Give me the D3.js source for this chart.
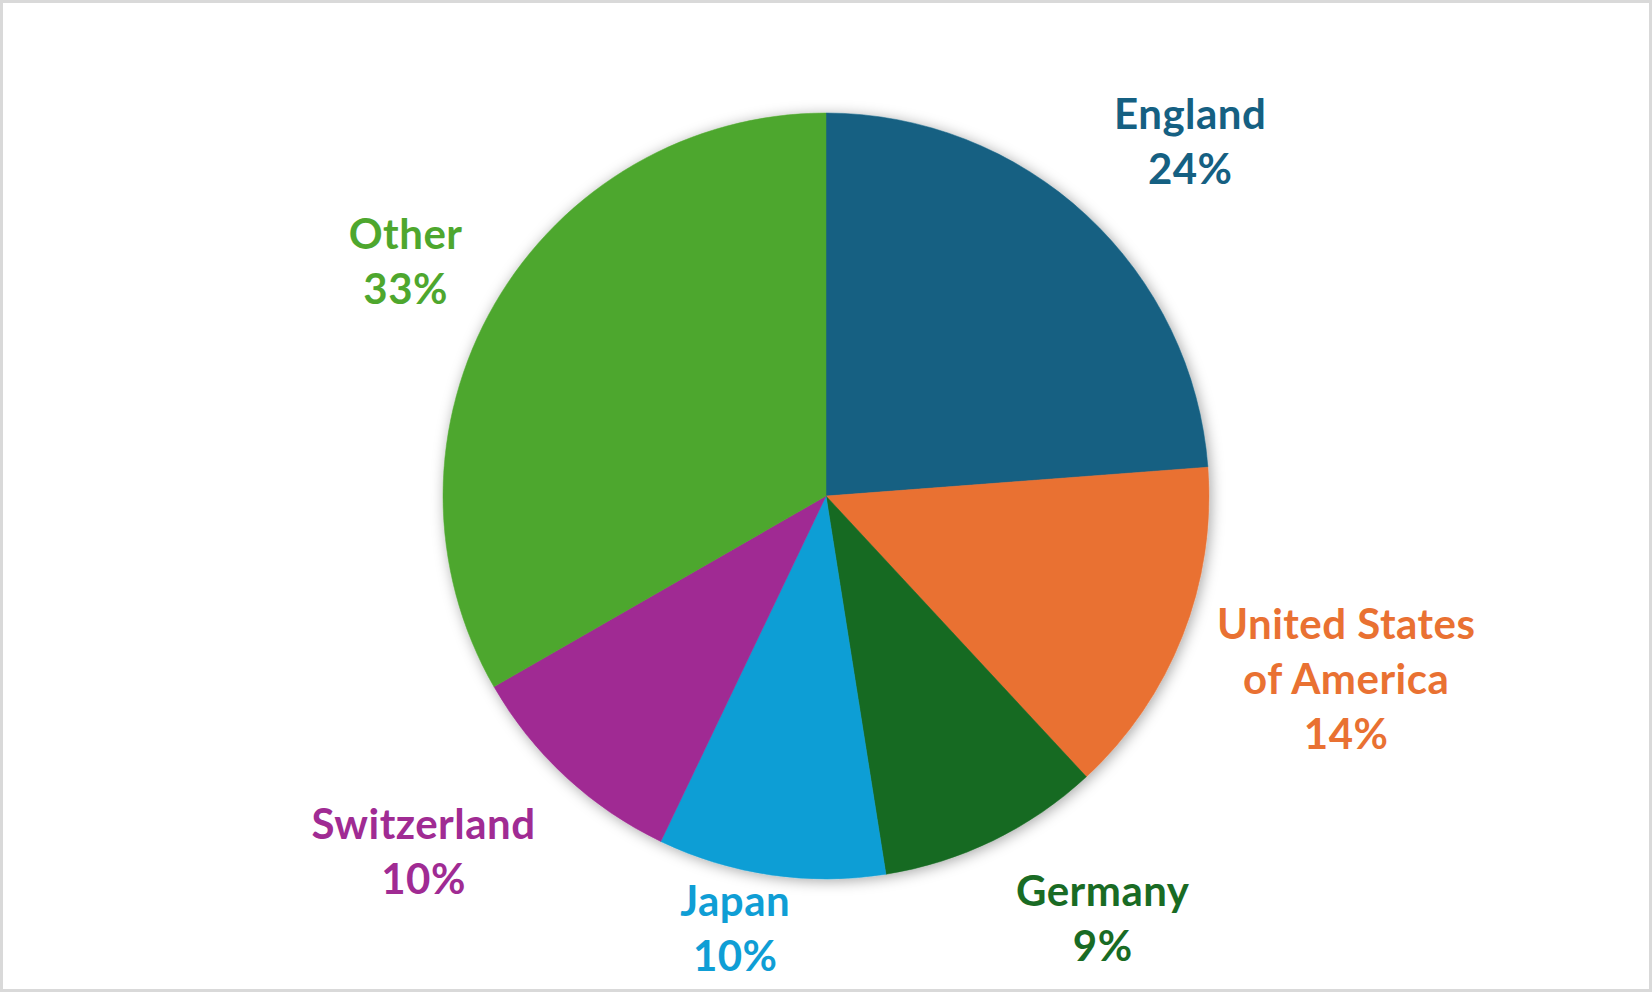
<!DOCTYPE html>
<html>
<head>
<meta charset="utf-8">
<script src="https://cdn.jsdelivr.net/npm/d3@7"></script>
<style>
  html, body { margin: 0; padding: 0; background: #fff; }
  svg { display: block; }
  .lbl { font-family: Lato, "Open Sans", sans-serif; font-weight: 700; font-size: 42px; letter-spacing: 0.5px; }
</style>
</head>
<body>
<svg id="chart" width="1652" height="992"></svg>
<script>
// data (share of total, %)
var countries = ['England', 'United States of America', 'Germany', 'Japan', 'Switzerland', 'Other'];
var shares = [23.8, 14.3, 9.4, 9.6, 9.6, 33.3];
var colors = ['#156082', '#E97132', '#196B24', '#0F9ED5', '#A02B93', '#4EA72E'];

(function() {
    var width = 1652;
    var height = 992;
    var cx = 826;
    var cy = 496;
    var radius = 383;
    var labelGap = 37;
    var lineHeight = 55;
    var wrapWidth = 280;
    var bottomLimit = 975;
    // small hand adjustments of the label boxes, like dragging them in the editor
    var labelNudge = {
        'England': [8, 5],
        'Other': [0, 5],
        'United States of America': [0, -3],
        'Switzerland': [-13, -6],
        'Japan': [11, 5],
        'Germany': [48, -5]
    };

    var svg = d3.select('#chart');

    // frame
    svg.append('rect')
        .attr('x', 1.5)
        .attr('y', 1.5)
        .attr('width', width - 3)
        .attr('height', height - 3)
        .attr('fill', '#fff')
        .attr('stroke', '#d9d9d9')
        .attr('stroke-width', 3);

    var defs = svg.append('defs');
    var shadow = defs.append('filter')
        .attr('id', 'pieShadow')
        .attr('x', '-10%')
        .attr('y', '-10%')
        .attr('width', '120%')
        .attr('height', '120%');
    shadow.append('feDropShadow')
        .attr('dx', 2)
        .attr('dy', 2)
        .attr('stdDeviation', 7)
        .attr('flood-color', '#000')
        .attr('flood-opacity', 0.35);

    var data = countries.map(function(c, i) {
        return { name: c, value: shares[i], color: colors[i] };
    });

    var pie = d3.pie()
        .sort(null)
        .value(function(d) { return d.value; });
    var arc = d3.arc()
        .innerRadius(0)
        .outerRadius(radius);

    var arcs = pie(data);

    var g = svg.append('g')
        .attr('transform', 'translate(' + cx + ',' + cy + ')');

    g.append('g')
        .attr('filter', 'url(#pieShadow)')
        .selectAll('path')
        .data(arcs)
        .enter()
        .append('path')
        .attr('d', arc)
        .attr('fill', function(d) { return d.data.color; })
        .attr('stroke', function(d) { return d.data.color; })
        .attr('stroke-width', 0.5);

    var total = d3.sum(shares);
    var labels = g.append('g')
        .selectAll('text')
        .data(arcs)
        .enter()
        .append('text')
        .attr('class', 'lbl')
        .attr('text-anchor', 'middle')
        .attr('fill', function(d) { return d.data.color; });

    labels.each(function(d) {
        var text = d3.select(this);
        // greedy word wrap, then the percentage on its own line
        var words = d.data.name.split(' ');
        var lines = [];
        var line = [];
        var probe = text.append('tspan');
        words.forEach(function(w) {
            line.push(w);
            probe.text(line.join(' '));
            if (probe.node().getComputedTextLength() > wrapWidth && line.length > 1) {
                line.pop();
                lines.push(line.join(' '));
                line = [w];
            }
        });
        lines.push(line.join(' '));
        probe.remove();
        lines.push(Math.round(d.data.value / total * 100) + '%');

        lines.forEach(function(l, k) {
            text.append('tspan')
                .attr('x', 0)
                .attr('y', k * lineHeight)
                .text(l);
        });

        // outside end: anchor on a ring just past the rim, attach the box by the
        // point of its outline that faces the pie
        var bb = this.getBBox();
        var theta = (d.startAngle + d.endAngle) / 2;
        var sx = Math.sin(theta);
        var sy = -Math.cos(theta);
        var m = Math.max(Math.abs(sx), Math.abs(sy));
        var px = (radius + labelGap) * sx + (sx / m) * bb.width / 2;
        var py = (radius + labelGap) * sy + (sy / m) * bb.height / 2;

        // keep it inside the chart: lift it and slide it sideways
        var over = cy + py + bb.height / 2 - bottomLimit;
        if (over > 0) {
            py -= over;
            px += (sx < 0 ? -1 : 1) * over * 0.8;
        }

        var nudge = labelNudge[d.data.name] || [0, 0];
        var dx = px - (bb.x + bb.width / 2) + nudge[0];
        var dy = py - (bb.y + bb.height / 2) + nudge[1];
        text.attr('transform', 'translate(' + dx + ',' + dy + ')');
    });
})();
</script>
</body>
</html>
